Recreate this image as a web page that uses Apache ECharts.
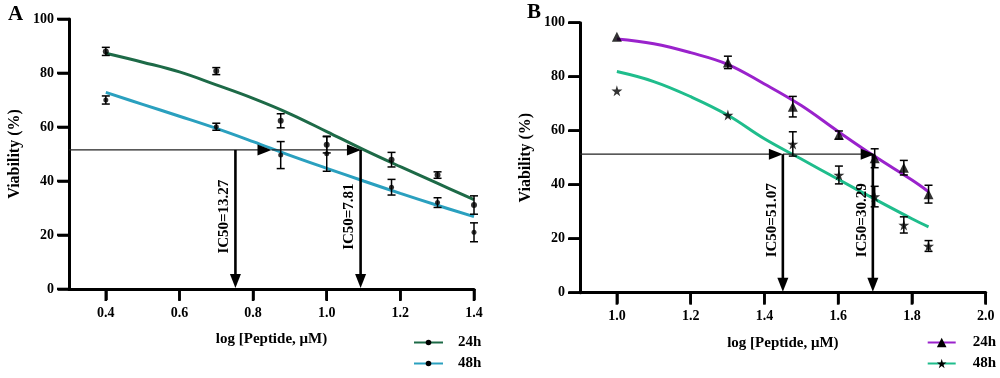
<!DOCTYPE html>
<html><head><meta charset="utf-8">
<script src="https://cdn.jsdelivr.net/npm/echarts@6/dist/echarts.min.js"></script>
<style>html,body{margin:0;padding:0;background:#fff}#c{width:1000px;height:378px}</style>
</head><body><div id="c"></div>
<script>
// ---- Panel A data ----
const xA = [0.4, 0.7, 0.875, 1.0, 1.176, 1.301, 1.4];
const a24 = [88, 80.7, 62.3, 53.4, 47.9, 42.2, 31.1];
const a24err = [1.5, 1.3, 2.6, 3.0, 2.7, 1.2, 3.4];
const a48 = [70, 60.1, 49.6, 50.1, 37.7, 32, 21];
const a48err = [1.5, 1.3, 5.0, 6.5, 2.9, 1.8, 3.5];
const cAx = [0.4, 0.5, 0.6, 0.7, 0.8, 0.9, 1.0, 1.1, 1.2, 1.3, 1.4];
const cA24 = [87.3, 84.0, 80.4, 75.6, 70.6, 64.9, 58.3, 51.6, 45.3, 39.2, 33.1];
const cA48 = [72.8, 68.4, 64.0, 59.5, 54.6, 49.5, 44.7, 40.0, 35.4, 31.0, 26.8];
const icA = {level: 51.5, hSegments: [[0.3, 0.85], [0.85, 1.093]], vLines: [0.752, 1.092], labels: ['IC50=13.27', 'IC50=7.81']};
const ticksA = [0.4, 0.6, 0.8, 1.0, 1.2, 1.4];

// ---- Panel B data ----
const xB = [1.0, 1.301, 1.477, 1.602, 1.699, 1.778, 1.845];
const b24 = [94.8, 85.3, 68.9, 58.4, 49.8, 46.3, 36.5];
const b24err = [0, 2.3, 3.8, 1.5, 3.5, 2.7, 3.3];
const b48 = [74.8, 65.8, 55.1, 43.6, 35.6, 25.1, 17.3];
const b48err = [0, 0, 4.5, 3.3, 3.8, 3.0, 2.0];
const cBx = [1.0, 1.1, 1.2, 1.3, 1.4, 1.5, 1.6, 1.7, 1.8, 1.845];
const cB24 = [94.0, 92.2, 88.9, 84.6, 77.3, 69.3, 59.7, 50.4, 41.7, 37.4];
const cB48 = [81.9, 78.2, 72.6, 65.8, 57.0, 49.5, 42.0, 34.6, 27.4, 24.4];
const icB = {level: 51.3, hSegments: [[0.9, 1.45], [1.45, 1.699]], vLines: [1.45, 1.694], labels: ['IC50=51.07', 'IC50=30.29']};
const ticksB = [1.0, 1.2, 1.4, 1.6, 1.8, 2.0];
const yTicks = [0, 20, 40, 60, 80, 100];

const FONT = '"Liberation Serif", "Times New Roman", serif';
const colA24 = '#1d6a47', colA48 = '#2aa0bf', colB24 = '#9a22cc', colB48 = '#1fbd8c';
const STAR = 'path://M50,0 L61,35 L98,35 L68,57 L79,91 L50,70 L21,91 L32,57 L2,35 L39,35 Z';

function zip(xs, ys) { return xs.map((x, i) => [x, ys[i]]); }
function zip3(xs, ys, es) { return xs.map((x, i) => [x, ys[i], es[i]]); }

function errRender(params, api) {
  const x = api.value(0), y = api.value(1), e = api.value(2);
  const top = api.coord([x, y + e]), bot = api.coord([x, y - e]);
  const w = e ? 4 : 0;
  const st = {stroke: '#000', lineWidth: e ? 1.5 : 0};
  return {type: 'group', children: [
    {type: 'line', shape: {x1: top[0], y1: top[1], x2: bot[0], y2: bot[1]}, style: st},
    {type: 'line', shape: {x1: top[0] - w, y1: top[1], x2: top[0] + w, y2: top[1]}, style: st},
    {type: 'line', shape: {x1: bot[0] - w, y1: bot[1], x2: bot[0] + w, y2: bot[1]}, style: st}
  ]};
}

function hArrowRender(level) {
  return function (params, api) {
    const p0 = api.coord([api.value(0), level]);
    const p1 = api.coord([api.value(1), level]);
    return {type: 'group', children: [
      {type: 'line', shape: {x1: p0[0], y1: p0[1], x2: p1[0] - 10, y2: p1[1]}, style: {stroke: '#222', lineWidth: 1.3}},
      {type: 'polygon', shape: {points: [[p1[0], p1[1]], [p1[0] - 14, p1[1] - 5.5], [p1[0] - 14, p1[1] + 5.5]]}, style: {fill: '#000'}}
    ]};
  };
}

function vArrowRender(level, labels) {
  return function (params, api) {
    const x = api.value(0);
    const pt = api.coord([x, level]);
    const pb = api.coord([x, 0]);
    const pm = api.coord([x, 26.8]);
    return {type: 'group', children: [
      {type: 'line', shape: {x1: pt[0], y1: pt[1], x2: pb[0], y2: pb[1] - 10}, style: {stroke: '#000', lineWidth: 2.6}},
      {type: 'polygon', shape: {points: [[pb[0], pb[1] - 1], [pb[0] - 5.5, pb[1] - 15], [pb[0] + 5.5, pb[1] - 15]]}, style: {fill: '#000'}},
      {type: 'text', x: pm[0] - 11, y: pm[1], rotation: Math.PI / 2,
        style: {text: labels[params.dataIndex], fill: '#000', font: 'bold 15px ' + FONT, align: 'center', verticalAlign: 'middle'}}
    ]};
  };
}

function xAxisCfg(idx, min, max, ticks) {
  return {
    type: 'value', gridIndex: idx, min: min, max: max,
    name: 'log [Peptide, \u03bcM)', nameLocation: 'middle', nameGap: 43,
    nameTextStyle: {fontFamily: FONT, fontWeight: 'bold', fontSize: 15, color: '#000'},
    axisLine: {show: true, onZero: false, lineStyle: {color: '#000', width: 3}},
    axisTick: {show: true, length: 11, customValues: ticks, lineStyle: {color: '#000', width: 2.5}},
    axisLabel: {customValues: ticks, margin: 17, formatter: v => v.toFixed(1), fontFamily: FONT, fontWeight: 'bold', fontSize: 14, color: '#000'},
    splitLine: {show: false}
  };
}
function yAxisCfg(idx) {
  return {
    type: 'value', gridIndex: idx, min: 0, max: 100, interval: 20,
    name: 'Viability (%)', nameLocation: 'middle', nameGap: 46,
    nameTextStyle: {fontFamily: FONT, fontWeight: 'bold', fontSize: 16, color: '#000'},
    axisLine: {show: true, onZero: false, lineStyle: {color: '#000', width: 3}},
    axisTick: {show: true, length: 11, lineStyle: {color: '#000', width: 2.5}},
    axisLabel: {margin: 15, fontFamily: FONT, fontWeight: 'bold', fontSize: 14, color: '#000'},
    splitLine: {show: false}
  };
}

function curve(name, xi, xs, ys, col, sym, symSize) {
  return {name: name, type: 'line', xAxisIndex: xi, yAxisIndex: xi, data: zip(xs, ys), smooth: 0.4,
    showSymbol: false, symbol: sym, symbolSize: symSize, lineStyle: {color: col, width: 3},
    itemStyle: {color: '#000'}, z: 2, silent: true};
}
function pts(name, xi, xs, ys, sym, size) {
  return {name: name, type: 'scatter', xAxisIndex: xi, yAxisIndex: xi, data: zip(xs, ys), symbol: sym, symbolSize: size,
    itemStyle: {color: '#000'}, z: 5, silent: true};
}
function errs(name, xi, xs, ys, es) {
  return {name: name, type: 'custom', xAxisIndex: xi, yAxisIndex: xi, data: zip3(xs, ys, es), renderItem: errRender, z: 4, silent: true};
}

const chart = echarts.init(document.getElementById('c'));
const panelLabels = [
  {type: 'text', left: 8, top: 4, style: {text: 'A', font: 'bold 21px ' + FONT, fill: '#000'}},
  {type: 'text', left: 527, top: 2, style: {text: 'B', font: 'bold 21px ' + FONT, fill: '#000'}}
];
chart.setOption({
  animation: false,
  backgroundColor: '#fff',
  grid: [
    {left: 69, right: 526, top: 19, bottom: 89},
    {left: 580, right: 14.3, top: 22.7, bottom: 85.3}
  ],
  graphic: panelLabels,
  legend: [
    {data: ['A 24h', 'A 48h'], left: 413, top: 335, height: 42, padding: 0, orient: 'vertical', itemWidth: 29, itemHeight: 7, itemGap: 6,
      formatter: n => n.split(' ')[1], selectedMode: false,
      textStyle: {fontFamily: FONT, fontWeight: 'bold', fontSize: 15, color: '#000', padding: [0, 0, 0, 10]}},
    {data: ['B 24h', 'B 48h'], left: 926.7, top: 335, height: 42, padding: 0, orient: 'vertical', itemWidth: 28, itemHeight: 12, itemGap: 6,
      formatter: n => n.split(' ')[1], selectedMode: false,
      textStyle: {fontFamily: FONT, fontWeight: 'bold', fontSize: 15, color: '#000', padding: [0, 0, 0, 12]}}
  ],
  xAxis: [xAxisCfg(0, 0.3, 1.4, ticksA), xAxisCfg(1, 0.9, 2.0, ticksB)],
  yAxis: [yAxisCfg(0), yAxisCfg(1)],
  series: [
    curve('A 24h', 0, cAx, cA24, colA24, 'circle', 6),
    curve('A 48h', 0, cAx, cA48, colA48, 'circle', 5),
    errs('eA24', 0, xA, a24, a24err),
    errs('eA48', 0, xA, a48, a48err),
    pts('pA24', 0, xA, a24, 'circle', 6),
    pts('pA48', 0, xA, a48, 'circle', 5),
    {name: 'hA', type: 'custom', xAxisIndex: 0, yAxisIndex: 0, data: icA.hSegments, renderItem: hArrowRender(icA.level), z: 3, silent: true},
    {name: 'vA', type: 'custom', xAxisIndex: 0, yAxisIndex: 0, data: icA.vLines.map(v => [v, icA.level]), renderItem: vArrowRender(icA.level, icA.labels), z: 3, silent: true},

    curve('B 24h', 1, cBx, cB24, colB24, 'triangle', 10),
    curve('B 48h', 1, cBx, cB48, colB48, STAR, 11),
    errs('eB24', 1, xB, b24, b24err),
    errs('eB48', 1, xB, b48, b48err),
    pts('pB24', 1, xB, b24, 'triangle', 10),
    pts('pB48', 1, xB, b48, STAR, 11),
    {name: 'hB', type: 'custom', xAxisIndex: 1, yAxisIndex: 1, data: icB.hSegments, renderItem: hArrowRender(icB.level), z: 3, silent: true},
    {name: 'vB', type: 'custom', xAxisIndex: 1, yAxisIndex: 1, data: icB.vLines.map(v => [v, icB.level]), renderItem: vArrowRender(icB.level, icB.labels), z: 3, silent: true}
  ]
});

// overlay tick marks, positioned through the axes' own scales
const tickEls = [];
[[0, 0.3, ticksA], [1, 0.9, ticksB]].forEach(([gi, xmin, xt]) => {
  xt.forEach(v => {
    const p = chart.convertToPixel({gridIndex: gi}, [v, 0]);
    tickEls.push({type: 'line', z: 100, shape: {x1: p[0], y1: p[1], x2: p[0], y2: p[1] + 12}, style: {stroke: '#000', lineWidth: 2.6}});
  });
  yTicks.forEach(v => {
    const p = chart.convertToPixel({gridIndex: gi}, [xmin, v]);
    tickEls.push({type: 'line', z: 100, shape: {x1: p[0], y1: p[1], x2: p[0] - 12, y2: p[1]}, style: {stroke: '#000', lineWidth: 2.6}});
  });
});
chart.setOption({graphic: panelLabels.concat(tickEls)});
</script>
</body></html>
